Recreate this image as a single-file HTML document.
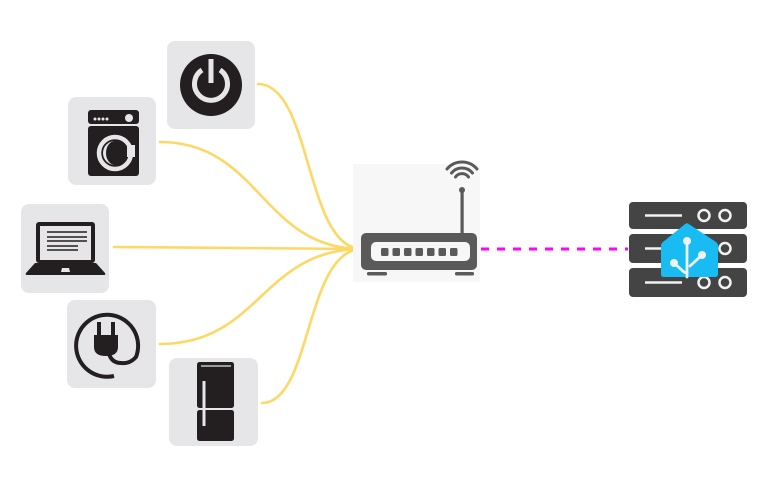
<!DOCTYPE html>
<html><head><meta charset="utf-8"><style>html,body{margin:0;padding:0;background:#fff;}svg{display:block}</style></head>
<body>
<svg width="784" height="483" viewBox="0 0 784 483" xmlns="http://www.w3.org/2000/svg">
<!-- connectors -->
<g fill="none" stroke="#fdd865" stroke-width="2.6" stroke-linecap="round">
<path d="M258,84 C312,84 305,249 362,249"/>
<path d="M160,142 C260,142 262,249 362,249"/>
<path d="M114,247 L362,249"/>
<path d="M160,344 C260,344 262,249 362,249"/>
<path d="M262,403 C312,403 305,249 362,249"/>
</g>
<line x1="481" y1="249" x2="628" y2="249" stroke="#ff00ff" stroke-width="3" stroke-dasharray="8,8"/>

<!-- device boxes -->
<g fill="#e6e6e8">
<rect x="167" y="41" width="88" height="88" rx="8"/>
<rect x="68" y="97" width="88" height="88" rx="8"/>
<rect x="21" y="204" width="88" height="89" rx="8"/>
<rect x="67" y="300" width="89" height="88" rx="8"/>
<rect x="169" y="358" width="89" height="88" rx="8"/>
</g>

<!-- power -->
<circle cx="211" cy="85" r="31" fill="#231f20"/>
<path d="M202,70 A16.5,16.5 0 1 0 220,70" fill="none" stroke="#e6e6e8" stroke-width="5"/>
<line x1="211" y1="59" x2="211" y2="83" stroke="#e6e6e8" stroke-width="5"/>

<!-- washer -->
<rect x="88" y="110" width="51" height="14" rx="3" fill="#231f20"/>
<rect x="88" y="126" width="51" height="50" rx="3" fill="#231f20"/>
<g fill="#e6e6e8">
<circle cx="95" cy="119" r="1.5"/><circle cx="99" cy="119" r="1.5"/><circle cx="103" cy="119" r="1.5"/><circle cx="107" cy="119" r="1.5"/>
<circle cx="129" cy="118" r="4"/>
</g>
<circle cx="115" cy="153" r="16" fill="none" stroke="#e6e6e8" stroke-width="4.5"/>
<path d="M115,141 A12,12 0 0 0 115,165 A9,12 0 0 1 115,141 Z" fill="#e6e6e8"/>
<rect x="127" y="145" width="8" height="12" fill="#e6e6e8"/>

<!-- laptop -->
<rect x="36" y="222" width="59" height="41" rx="3" fill="#231f20"/>
<rect x="40" y="226" width="51" height="34" fill="#e6e6e8"/>
<g stroke="#231f20" stroke-width="1.6">
<line x1="47" y1="232" x2="87" y2="232"/>
<line x1="47" y1="237" x2="87" y2="237"/>
<line x1="47" y1="241" x2="87" y2="241"/>
<line x1="47" y1="246" x2="78" y2="246"/>
<line x1="47" y1="250" x2="78" y2="250"/>
</g>
<path d="M35,263 L96,263 L105,273 Q106,275 104,275 L27,275 Q25,275 26,273 Z" fill="#231f20"/>
<path d="M61,272 L62,268 L69,268 L70,272 Z" fill="#e6e6e8"/>

<!-- plug -->
<path d="M114,376 A31,31 0 1 1 136,357 Q130,364 121,363 Q112,363 109,354" fill="none" stroke="#231f20" stroke-width="4" stroke-linejoin="round"/>
<rect x="97" y="322" width="4" height="15" fill="#231f20"/>
<rect x="111" y="322" width="4" height="15" fill="#231f20"/>
<path d="M94,335 L118,335 L118,347 Q118,356 106,356 Q94,356 94,347 Z" fill="#231f20"/>

<!-- fridge -->
<rect x="197" y="362" width="37" height="46" rx="2.5" fill="#231f20"/>
<rect x="197" y="410" width="37" height="31" rx="2.5" fill="#231f20"/>
<line x1="201" y1="366" x2="231" y2="366" stroke="#e6e6e8" stroke-width="1.2"/>
<rect x="202.5" y="381" width="3" height="45" fill="#e6e6e8"/>

<!-- router -->
<rect x="353" y="164" width="127" height="118" fill="#f7f7f7"/>
<g fill="none" stroke="#5a5a5a" stroke-width="3" stroke-linecap="round">
<path d="M455.5,177 A8,8 0 0 1 468.5,177"/>
<path d="M451.5,173 A13.5,13.5 0 0 1 472.5,173"/>
<path d="M447,169 A19.5,19.5 0 0 1 477,169"/>
</g>
<circle cx="462" cy="190" r="3" fill="#5a5a5a"/>
<rect x="460.5" y="190" width="3.2" height="45" fill="#5a5a5a"/>
<rect x="361" y="233" width="116" height="37" rx="5" fill="#5a5a5a"/>
<rect x="371" y="242" width="99" height="19" rx="5" fill="#f7f7f7"/>
<g fill="#5a5a5a">
<rect x="381" y="248" width="7.5" height="8" rx="1.5"/>
<rect x="392.5" y="248" width="7.5" height="8" rx="1.5"/>
<rect x="404" y="248" width="7.5" height="8" rx="1.5"/>
<rect x="415.5" y="248" width="7.5" height="8" rx="1.5"/>
<rect x="427" y="248" width="7.5" height="8" rx="1.5"/>
<rect x="438.5" y="248" width="7.5" height="8" rx="1.5"/>
<rect x="450" y="248" width="7.5" height="8" rx="1.5"/>
<rect x="367" y="272" width="20" height="3.5" rx="1.5"/>
<rect x="455" y="272" width="19" height="3.5" rx="1.5"/>
</g>

<!-- server -->
<g fill="#444444">
<rect x="629" y="202" width="118" height="27" rx="4"/>
<rect x="629" y="234" width="118" height="29" rx="4"/>
<rect x="629" y="268" width="118" height="29" rx="4"/>
</g>
<g stroke="#f2f2f2" stroke-width="2.5" fill="none">
<line x1="645" y1="215.5" x2="682" y2="215.5"/>
<line x1="645" y1="248.5" x2="682" y2="248.5"/>
<line x1="645" y1="282.5" x2="682" y2="282.5"/>
<circle cx="704" cy="215.5" r="5.5"/><circle cx="725" cy="215.5" r="5.5"/>
<circle cx="704" cy="248.5" r="5.5"/><circle cx="725" cy="248.5" r="5.5"/>
<circle cx="704" cy="282.5" r="5.5"/><circle cx="725" cy="282.5" r="5.5"/>
</g>
<!-- home assistant -->
<path d="M684.5,224.5 Q687,222 689.5,224.5 L716,242 Q718,243.5 718,246 L718,274 Q718,277 715,277 L664,277 Q661,277 661,274 L661,246 Q661,243.5 663,242 Z" fill="#18bcf2"/>
<g stroke="#eef3f7" stroke-width="2.8" fill="none" stroke-linecap="round">
<line x1="687" y1="241" x2="687" y2="277"/>
<path d="M674,263 L684,272 L687,273"/>
<path d="M702,255 L690,266"/>
</g>
<g fill="#eef3f7">
<circle cx="687" cy="241" r="4"/>
<circle cx="674" cy="263" r="4"/>
<circle cx="702" cy="255" r="4"/>
</g>
</svg>
</body></html>
